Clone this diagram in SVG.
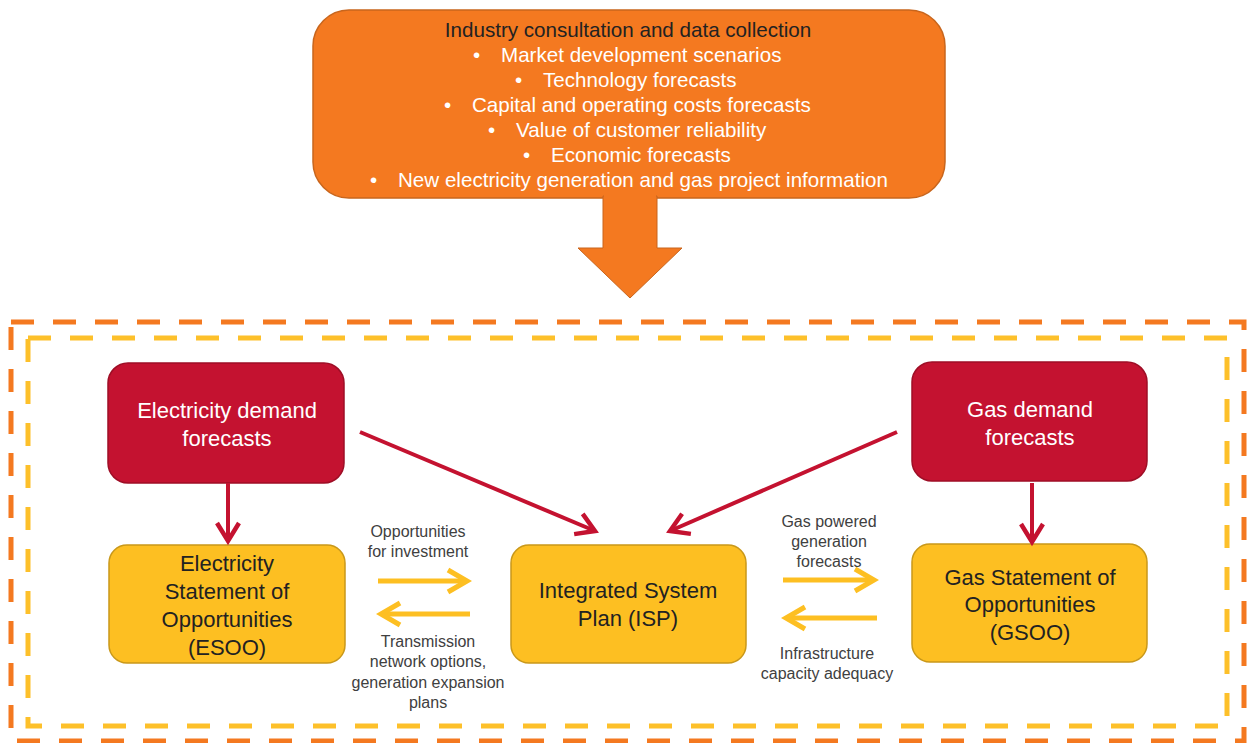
<svg xmlns="http://www.w3.org/2000/svg" width="1247" height="743" viewBox="0 0 1247 743">
<style>
text{font-family:"Liberation Sans",Arial,sans-serif}
.top{font-size:20.6px;fill:#ffffff}
.title{font-size:20.6px;fill:#222222;text-anchor:middle}
.red{fill:#C41230;stroke:#9E0E26;stroke-width:1.5}
.yel{fill:#FDBF22;stroke:#C9981A;stroke-width:1.5}
.wt{font-size:22px;fill:#ffffff;text-anchor:middle}
.dt{font-size:22px;fill:#222222;text-anchor:middle}
.lbl{font-size:16px;fill:#404040;text-anchor:middle}
.rc{stroke:#C41230;stroke-width:4;fill:none}
.yc{stroke:#FDBF22;stroke-width:5;fill:none}
</style>
<defs>
<marker id="ah-red" viewBox="-26 -16 32 32" markerWidth="32" markerHeight="32" refX="0" refY="0" orient="auto" markerUnits="userSpaceOnUse">
<path d="M-18,-11 L0,0 L-18,11" fill="none" stroke="#C41230" stroke-width="4.5"/>
</marker>
<marker id="ah-yel" viewBox="-26 -16 32 32" markerWidth="32" markerHeight="32" refX="0" refY="0" orient="auto" markerUnits="userSpaceOnUse">
<path d="M-19,-11 L0,0 L-19,11" fill="none" stroke="#FDBF22" stroke-width="5"/>
</marker>
</defs>
<rect width="1247" height="743" fill="#ffffff"/>

<g id="frames">
<rect x="11" y="322" width="1233" height="419" fill="none" stroke="#F47920" stroke-width="5" stroke-dasharray="23 19"/>
<rect x="28" y="338" width="1199" height="388" fill="none" stroke="#FDC02A" stroke-width="5" stroke-dasharray="23 19"/>
</g>

<g id="node-industry">
<rect x="313" y="10" width="632" height="188" rx="36" fill="#F47920" stroke="#C8651C" stroke-width="1.5"/>
<path d="M603,196 L657,196 L657,248 L682,248 L630,298 L578,248 L603,248 Z" fill="#F47920" stroke="#C8651C" stroke-width="1"/>
<rect x="604" y="190" width="52" height="12" fill="#F47920"/>
<text class="title" x="628" y="37">Industry consultation and data collection</text>
<g class="top">
<text x="473" y="62">•</text><text x="501" y="62">Market development scenarios</text>
<text x="515" y="87">•</text><text x="543" y="87">Technology forecasts</text>
<text x="444" y="112">•</text><text x="472" y="112">Capital and operating costs forecasts</text>
<text x="488" y="137">•</text><text x="516" y="137">Value of customer reliability</text>
<text x="523" y="162">•</text><text x="551" y="162">Economic forecasts</text>
<text x="370" y="187">•</text><text x="398" y="187">New electricity generation and gas project information</text>
</g>
</g>

<g id="node-elec-demand">
<rect class="red" x="108" y="363" width="236" height="120" rx="20"/>
<text class="wt" x="227" y="418">Electricity demand</text>
<text class="wt" x="227" y="446">forecasts</text>
</g>

<g id="node-gas-demand">
<rect class="red" x="912" y="362" width="235" height="119" rx="20"/>
<text class="wt" x="1030" y="417">Gas demand</text>
<text class="wt" x="1030" y="445">forecasts</text>
</g>

<g id="node-esoo">
<rect class="yel" x="109" y="545" width="236" height="118" rx="18"/>
<text class="dt" x="227" y="571">Electricity</text>
<text class="dt" x="227" y="599">Statement of</text>
<text class="dt" x="227" y="627">Opportunities</text>
<text class="dt" x="227" y="655">(ESOO)</text>
</g>

<g id="node-isp">
<rect class="yel" x="511" y="545" width="235" height="118" rx="18"/>
<text class="dt" x="628" y="598">Integrated System</text>
<text class="dt" x="628" y="626">Plan (ISP)</text>
</g>

<g id="node-gsoo">
<rect class="yel" x="912" y="544" width="235" height="118" rx="18"/>
<text class="dt" x="1030" y="585">Gas Statement of</text>
<text class="dt" x="1030" y="612">Opportunities</text>
<text class="dt" x="1030" y="640">(GSOO)</text>
</g>

<g id="connectors">
<line class="rc" x1="228" y1="483" x2="228" y2="541" marker-end="url(#ah-red)"/>
<line class="rc" x1="1032" y1="483" x2="1032" y2="542" marker-end="url(#ah-red)"/>
<line class="rc" x1="360" y1="432" x2="595" y2="531" marker-end="url(#ah-red)"/>
<line class="rc" x1="897" y1="432" x2="670" y2="531" marker-end="url(#ah-red)"/>
<line class="yc" x1="378" y1="581" x2="467" y2="581" marker-end="url(#ah-yel)"/>
<line class="yc" x1="470" y1="614" x2="381" y2="614" marker-end="url(#ah-yel)"/>
<line class="yc" x1="783" y1="580" x2="874" y2="580" marker-end="url(#ah-yel)"/>
<line class="yc" x1="877" y1="618" x2="786" y2="618" marker-end="url(#ah-yel)"/>
<text class="lbl" x="418" y="537">Opportunities</text>
<text class="lbl" x="418" y="557">for investment</text>
<text class="lbl" x="428" y="647">Transmission</text>
<text class="lbl" x="428" y="667">network options,</text>
<text class="lbl" x="428" y="688">generation expansion</text>
<text class="lbl" x="428" y="708">plans</text>
<text class="lbl" x="829" y="527">Gas powered</text>
<text class="lbl" x="829" y="547">generation</text>
<text class="lbl" x="829" y="567">forecasts</text>
<text class="lbl" x="827" y="659">Infrastructure</text>
<text class="lbl" x="827" y="679">capacity adequacy</text>
</g>
</svg>
